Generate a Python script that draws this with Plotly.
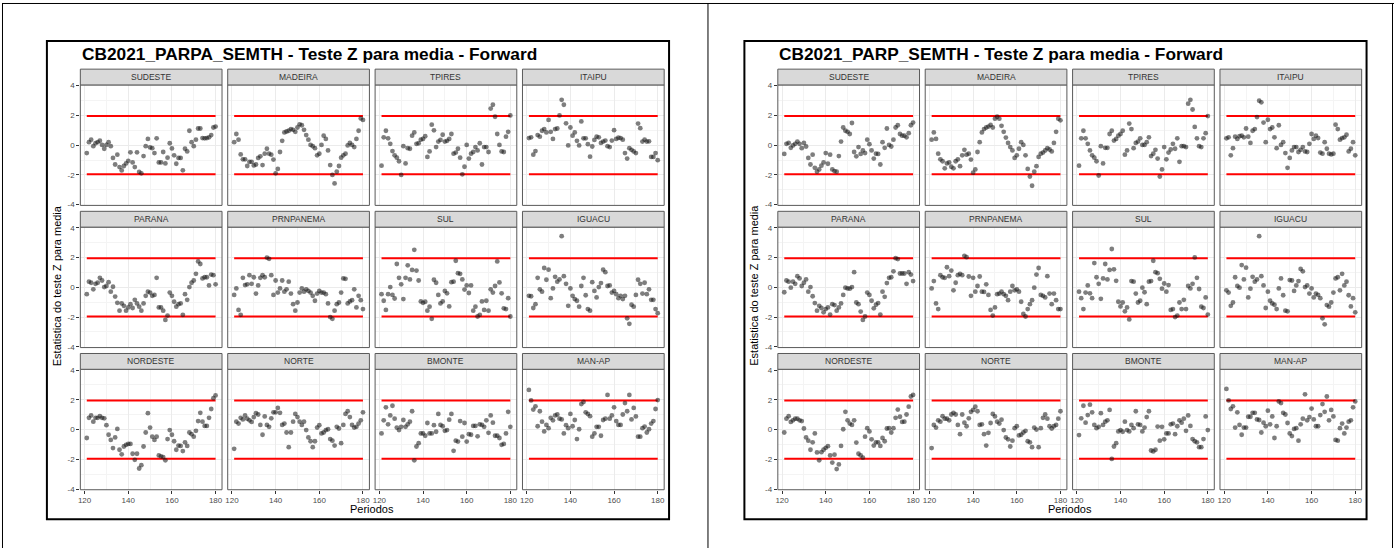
import plotly.graph_objects as go

W, H = 1395, 552

PERIODS = list(range(121, 181))
REGIONS = ["SUDESTE", "MADEIRA", "TPIRES", "ITAIPU",
           "PARANA", "PRNPANEMA", "SUL", "IGUACU",
           "NORDESTE", "NORTE", "BMONTE", "MAN-AP"]
LIMIT = 1.96
TITLES = ["CB2021_PARPA_SEMTH - Teste Z para media - Forward",
          "CB2021_PARP_SEMTH - Teste Z para media - Forward"]
X_TICKS = [120, 140, 160, 180]
Y_TICKS = [-4, -2, 0, 2, 4]
Y_TICK_TEXT = ["-4", "-2", "0", "2", "4"]

# ---- CB2021_PARPA_SEMTH ----
PARPA_SUDESTE = [-0.53, 0.2, 0.37, -0.07, 0.13, 0.2, 0.3, 0.02, -0.24, 0.02,
                 0.2, -0.07, -0.86, -1.3, -0.64, -1.47, -1.7, -1.4, -1.23, -1.05,
                 -0.48, -1.16, -1.47, -0.48, -1.8, -1.89, -0.73, -0.07, 0.42, -0.15,
                 -0.2, -0.53, 0.46, -1.16, -1.16, -0.46, -1.23, -0.84, 0.13, -0.22,
                 -0.68, -1.25, -0.86, -0.86, -1.69, -0.24, -0.42, 0.97, 0.2, -0.07,
                 0.37, 1.12, 1.12, 0.48, 0.46, 0.48, 0.53, 0.68, 1.19, 1.25]
PARPA_MADEIRA = [0.2, 0.75, 0.37, -0.62, -0.95, -0.95, -1.4, -1.12, -1.12, -1.36,
                 -1.3, -0.86, -0.75, -1.34, -0.57, -0.24, -0.57, -0.64, -0.97, -1.89,
                 -1.6, -0.46, 0.29, 0.86, 0.92, 0.97, 1.08, 1.03, 0.9, 1.19,
                 1.4, 1.34, 1.03, 0.68, 0.37, 0.02, -0.07, -0.2, -0.68, -0.57,
                 0.02, 0.64, 0.42, -0.35, -1.34, -2.0, -2.57, -1.78, -1.4, -0.84,
                 -0.68, -0.57, -0.02, 0.15, 0.02, -0.13, 0.42, 0.97, 1.8, 1.7]
PARPA_TPIRES = [-1.38, 0.53, 0.97, 0.46, 0.09, -0.4, -0.68, -0.84, -1.08, -2.0,
                -0.07, -1.23, -0.2, -0.24, 0.64, 0.86, 0.09, 0.13, 0.37, 0.42,
                0.6, -0.79, -0.42, 1.38, 1.0, -0.13, 0.24, 0.35, 0.7, 0.24,
                0.29, 0.42, 0.75, -0.57, -0.5, -0.24, -0.84, -1.96, -1.45, 0.02,
                -0.9, -0.57, -0.46, -0.13, -0.35, 0.13, -1.3, -0.13, -0.13, -0.46,
                2.46, 2.72, 1.91, 0.75, 0.02, -0.42, -0.46, 0.57, 0.9, 2.0]
PARPA_ITAIPU = [0.48, 0.53, -0.64, -0.4, 0.68, 0.57, 0.97, 1.08, 0.86, 1.7,
                0.9, 0.42, 1.08, 1.12, 2.0, 3.05, 2.72, 1.47, -0.02, 1.19,
                0.64, 0.86, 0.29, -0.02, 1.6, 0.46, 0.46, 0.07, -0.77, -0.09,
                0.35, 0.57, 0.53, 0.15, 0.24, 0.31, -0.07, -0.13, 0.31, 1.01,
                0.42, 0.5, 0.48, 0.37, -0.53, -0.9, -0.2, -0.31, -0.42, -0.53,
                1.45, 1.14, 0.24, 0.37, 0.24, 0.26, -0.79, -0.79, -0.53, -1.01]
PARPA_PARANA = [-0.46, 0.38, 0.31, -0.13, 0.24, 0.31, 0.64, 0.46, 0.02, 0.09,
                0.35, -0.29, 0.04, -0.62, -1.04, -1.57, -1.08, -1.24, -1.57, -1.35,
                -1.13, -1.39, -0.84, -1.08, -1.3, -1.57, -1.08, -0.57, -0.29, -0.35,
                -0.57, -0.51, 0.64, -1.35, -1.35, -1.57, -2.19, -1.9, -0.35, -0.57,
                -0.97, -1.3, -1.13, -1.08, -1.85, -0.46, -0.84, 0.02, 0.31, 0.46,
                0.91, 1.74, 1.57, 0.6, 0.68, 0.68, 0.13, 0.86, 0.82, 0.2]
PARPA_PRNPANEMA = [-0.51, -0.07, -1.52, -1.85, 0.64, 0.15, 0.2, 0.82, 0.24, 0.68,
                   -0.42, 0.13, 0.64, 0.82, 0.68, 2.0, 1.92, 0.82, -0.51, 0.46,
                   -0.35, -0.07, 0.46, -0.29, -0.13, 0.38, -0.42, -1.13, -1.57, -1.02,
                   -0.35, -0.07, -0.29, -0.13, -0.24, -0.35, -0.57, -0.9, -0.42, -0.24,
                   -0.35, -0.35, -0.46, -1.08, -2.0, -2.12, -1.57, -1.13, -1.02, -0.35,
                   0.6, 0.57, -1.08, -0.95, -0.86, -0.13, -1.35, -0.57, -0.86, -1.46]
PARPA_SUL = [-0.46, -0.9, -1.52, -0.46, 0.02, -0.51, -0.75, 1.57, 0.64, 0.2,
             -0.79, 0.64, 1.48, 0.53, 1.17, 2.52, 1.13, 0.46, -0.95, -1.04,
             -0.97, -1.57, -1.3, -2.12, 0.51, 0.31, -0.51, -1.08, -0.95, -0.24,
             -0.4, -1.28, 0.35, 0.38, 1.79, 0.95, 0.91, 0.53, -0.15, 0.13,
             -0.38, 0.13, -1.57, -1.3, -1.96, -1.85, -0.95, -1.52, -0.9, -1.57,
             -0.13, -0.35, 0.09, 1.74, 0.33, -0.4, -1.41, -1.46, -0.73, -1.96]
PARPA_IGUACU = [-0.57, -0.6, -1.39, -1.13, 0.64, -0.13, -0.29, 1.3, 0.51, 1.19,
                -0.73, -0.07, 0.71, 0.38, 0.53, 3.44, 0.75, 0.24, -1.24, -0.07,
                -0.57, -0.79, -0.9, -1.3, 0.09, 0.64, -0.53, -1.46, -1.57, 0.35,
                -0.24, -0.68, 0.02, 0.29, 1.19, 1.02, 0.09, 0.13, -0.35, -0.24,
                -0.46, -0.73, -0.57, -0.79, -0.57, -2.08, -2.45, -1.17, -1.3, -0.51,
                0.51, 0.24, -0.42, 0.31, -0.46, -0.13, -0.84, -0.84, -1.46, -1.74]
PARPA_NORDESTE = [-0.57, 0.79, 0.95, 0.53, 0.79, 0.79, 0.9, 0.79, 0.75, 0.29,
                  -0.35, -0.7, -1.25, -0.53, 0.04, -1.36, -1.67, -1.14, -1.03, -0.97,
                  -0.97, -1.63, -2.04, -1.63, -2.62, -2.4, -1.14, -0.2, 1.1, 0.13,
                  -0.48, -0.7, -0.48, -1.74, -1.8, -1.85, -2.07, -0.64, -0.04, -0.35,
                  -0.79, -1.36, -1.08, -1.1, -1.45, -0.86, -1.1, -0.2, -0.31, -0.48,
                  -0.09, 0.57, 1.12, 0.53, 0.24, 0.24, 0.79, 1.38, 2.11, 2.29]
PARPA_NORTE = [-1.3, 0.53, 0.4, 0.79, 0.68, 0.95, 0.73, 0.62, 0.51, 0.84,
               1.1, 1.01, 0.31, -0.35, 0.88, 0.31, 0.18, 0.75, 1.16, 1.16,
               1.45, 1.12, 0.31, 0.4, -0.2, -1.19, -0.2, 0.53, 1.05, 0.84,
               0.53, 0.31, 0.53, -0.04, -0.53, -0.79, -1.19, -0.79, 0.13, 0.29,
               -0.26, -0.2, -0.04, 0.02, -0.64, -0.75, -1.08, 0.18, 0.07, -0.92,
               0.31, 1.05, 1.23, 0.84, 0.31, 0.13, 0.18, 0.4, 0.62, 1.16]
PARPA_BMONTE = [-0.26, 0.62, 1.49, 0.35, 0.95, 1.6, 0.73, 0.13, -0.04, 0.18,
                0.64, 0.18, 0.35, 0.53, 1.23, -2.07, -1.14, -0.92, -0.26, -0.26,
                -0.42, 0.44, -0.26, -0.26, 0.29, -0.15, 1.05, 0.31, 0.22, -0.09,
                -0.04, 0.66, 1.05, -1.43, -0.75, -0.81, 0.57, -0.48, 0.44, -0.81,
                -0.31, -0.35, 0.24, 0.24, -0.46, 0.35, 0.31, 0.18, 0.62, -0.22,
                0.95, 0.46, -0.42, -0.42, -0.57, -1.03, -0.97, -0.26, 1.19, 0.18]
PARPA_MANAP = [2.66, 1.96, 1.34, 1.56, 0.22, 1.23, 0.53, -0.13, 0.31, 0.09,
               0.79, 0.62, 0.95, 1.01, 0.73, 0.68, -0.26, 0.29, 0.09, 1.05,
               0.22, 0.64, -0.64, 0.02, 1.71, 1.85, 1.16, 1.05, 0.9, -0.48,
               -0.26, 0.18, 0.18, -0.42, 0.64, 0.73, 2.33, 0.73, 0.95, 1.49,
               0.57, 0.31, 0.31, 1.01, 1.78, 1.23, 2.33, 0.68, 1.45, 0.88,
               -0.48, -0.48, 0.09, 0.2, -0.2, 0.02, 0.4, 0.57, 1.38, 1.98]

# ---- CB2021_PARP_SEMTH ----
PARP_SUDESTE = [-0.59, 0.09, 0.15, -0.18, -0.02, 0.09, 0.24, 0.09, -0.2, 0.15,
                -0.09, -0.86, -1.3, -0.64, -1.52, -1.78, -1.63, -1.38, -1.16, -0.53,
                -1.25, -0.64, -1.63, -1.74, -1.78, -0.73, 0.24, 1.19, 0.97, 0.9,
                0.75, 1.49, -0.46, -0.75, -0.13, -0.59, -0.35, -0.53, 0.37, 0.07,
                -0.35, -0.9, -0.57, -0.59, -1.3, 0.2, -0.18, 1.12, 0.02, -0.09,
                0.37, 1.19, 1.34, 0.75, 0.64, 0.64, 0.53, 0.81, 1.34, 1.52]
PARP_MADEIRA = [0.37, 0.86, 0.42, -0.57, -0.95, -1.08, -1.56, -1.23, -1.16, -1.45,
                -1.56, -1.08, -0.95, -1.41, -0.68, -0.31, -0.64, -0.57, -0.97, -1.85,
                -1.63, -0.46, 0.2, 0.86, 1.08, 1.19, 1.25, 1.36, 1.19, 1.78,
                1.91, 1.78, 1.3, 0.9, 0.51, 0.15, -0.13, -0.35, -0.86, -0.68,
                -0.24, 0.2, 0.02, -0.68, -1.6, -2.11, -2.73, -1.78, -1.41, -0.79,
                -0.57, -0.5, -0.35, -0.2, -0.29, -0.42, 0.15, 0.9, 1.78, 1.67]
PARP_TPIRES = [-1.38, 0.46, 0.97, 0.46, 0.09, -0.35, -0.68, -0.84, -1.08, -2.04,
               -0.07, -1.23, -0.18, -0.18, 0.75, 0.97, 0.31, 0.42, 0.64, 0.75,
               0.97, -0.64, -0.35, 1.45, 1.08, -0.2, 0.15, 0.24, 0.46, 0.02,
               0.02, 0.2, 0.53, -0.73, -0.57, -0.31, -0.9, -2.11, -1.63, -0.13,
               -0.95, -0.5, -0.29, 0.09, -0.24, 0.46, -1.12, -0.07, -0.07, -0.13,
               2.79, 3.05, 2.4, 1.23, 0.46, -0.07, -0.13, 0.46, 0.81, 1.96]
PARP_ITAIPU = [0.46, 0.53, -0.68, -0.2, 0.57, 0.42, 0.6, 0.64, 0.53, 1.12,
               0.57, 0.15, 0.97, 1.08, 1.89, 2.99, 2.88, 1.52, 0.2, 1.71,
               1.08, 1.19, 0.53, -0.2, 1.34, 0.02, 0.2, -0.53, -1.52, -0.86,
               -0.35, -0.13, -0.13, -0.46, -0.31, -0.13, -0.42, -0.46, 0.09, 0.75,
               0.42, 0.64, 0.48, -0.5, -0.57, 0.2, -0.24, -0.57, -0.62, -0.57,
               1.38, 1.08, 0.37, 0.48, 0.53, 0.7, -0.42, -0.24, 0.2, -0.68]
PARP_PARANA = [-0.33, 0.46, 0.38, -0.02, 0.38, 0.24, 0.75, 0.6, 0.09, 0.31,
               0.53, -0.29, 0.02, -0.6, -1.06, -1.57, -1.24, -1.39, -1.68, -1.46,
               -1.35, -1.83, -1.13, -1.19, -1.57, -1.35, -1.08, -0.51, -0.02, -0.07,
               -0.09, 0.02, 1.02, -1.02, -1.13, -1.63, -2.19, -1.96, -0.35, -0.51,
               -0.9, -1.41, -1.17, -1.06, -1.83, -0.29, -0.64, 0.29, 0.64, 0.68,
               1.08, 1.96, 1.9, 0.93, 0.93, 0.93, 0.24, 1.02, 0.86, 0.42]
PARP_PRNPANEMA = [-0.07, 0.42, -1.08, -1.46, 0.82, 0.68, 0.64, 1.35, 0.75, 1.13,
                  -0.2, 0.31, 0.82, 0.91, 0.82, 2.12, 2.03, 0.73, -0.57, 0.64,
                  -0.29, 0.09, 0.73, -0.29, -0.31, 0.2, -0.51, -1.52, -1.9, -1.35,
                  -0.46, -0.42, -0.29, -0.46, -0.57, -0.86, -0.29, 0.09, -0.2, -0.13,
                  -0.29, -0.97, -1.79, -1.96, -1.46, -1.13, -0.86, -0.02, 0.86, 1.3,
                  -0.51, -0.57, -0.68, 0.75, -0.42, -1.13, -0.42, -0.86, -1.46, -1.46]
PARP_SUL = [-0.29, -0.73, -1.46, -0.35, 0.13, -0.4, -0.73, 1.63, 0.68, 0.24,
            -0.77, 0.6, 1.57, 0.53, 1.17, 2.58, 1.21, 0.44, -0.97, -1.28,
            -1.02, -1.61, -1.35, -2.16, 0.42, 0.38, -0.42, -1.02, -0.9, -0.02,
            -0.33, -1.13, 0.38, 0.42, 1.79, 1.02, 0.95, 0.57, -0.09, 0.26,
            -0.29, 0.15, -1.52, -1.46, -2.0, -1.9, -1.02, -1.46, -0.84, -1.46,
            0.09, -0.07, 0.24, 2.01, 0.64, -0.11, -1.3, -1.39, -0.68, -1.83]
PARP_IGUACU = [-0.2, -0.35, -1.24, -1.02, 0.68, 0.09, -0.02, 1.5, 0.53, 1.32,
               -0.68, -0.09, 0.71, 0.38, 0.53, 3.44, 0.75, 0.13, -1.39, -0.29,
               -0.9, -1.08, -1.17, -1.46, -0.07, 0.6, -0.53, -1.57, -1.61, 0.49,
               0.46, -0.24, 0.13, 0.42, 1.24, 1.08, 0.02, 0.13, -0.42, -0.07,
               -0.68, -0.42, -0.51, -0.73, -2.08, -2.49, -1.19, -1.3, -1.02, -0.35,
               0.6, 0.68, -0.2, 0.91, 0.13, 0.38, -0.53, -1.28, -0.73, -1.68]
PARP_NORDESTE = [-0.2, 0.73, 0.9, 0.51, 0.62, 0.73, 0.73, 0.62, 0.57, 0.07,
                 -0.53, -0.75, -1.36, -0.86, -0.26, -1.54, -2.07, -1.52, -1.36, -1.23,
                 -1.12, -1.74, -2.22, -1.69, -2.66, -2.35, -1.1, 0.02, 1.19, 0.62,
                 0.4, 0.31, 0.62, -0.88, -1.63, -1.74, -1.89, -0.48, 0.09, -0.13,
                 -0.66, -1.08, -0.86, -0.86, -1.1, -0.57, -0.79, 0.07, 0.09, -0.2,
                 0.09, 0.79, 1.34, 0.86, 0.51, 0.53, 1.01, 1.54, 2.22, 2.33]
PARP_NORTE = [-1.25, 0.31, 0.13, 0.62, 0.53, 0.9, 0.73, 0.73, 0.62, 1.01,
              1.12, 1.01, 0.31, -0.31, 1.01, 0.46, 0.22, 0.75, 1.19, 1.32,
              1.54, 1.23, 0.31, 0.35, -0.31, -1.08, -0.22, 0.44, 1.05, 0.88,
              0.53, 0.4, 0.66, -0.04, -0.53, -0.66, -1.14, -0.75, 0.09, 0.22,
              -0.4, -0.35, -0.2, -0.09, -0.79, -0.86, -1.19, 0.13, 0.0, -1.19,
              0.09, 0.79, 1.01, 0.73, 0.22, 0.07, 0.22, 0.31, 0.73, 1.23]
PARP_BMONTE = [-0.37, 0.75, 1.6, 0.46, 0.97, 1.67, 1.16, 0.31, 0.09, 0.18,
               1.1, 0.31, 0.53, 0.62, 1.32, -1.98, -1.14, -0.92, -0.13, -0.04,
               -0.15, 0.53, -0.04, -0.13, 0.31, 0.09, 1.23, 0.35, 0.31, -0.13,
               0.13, 0.84, 1.23, -1.41, -1.47, -1.36, 0.2, -0.75, 0.18, -0.66,
               -0.26, -0.26, 0.35, 0.4, -0.31, 0.22, 0.62, 0.46, 0.73, -0.09,
               0.95, 0.24, -0.64, -0.79, -0.86, -1.19, -1.19, -0.64, 0.88, -0.04]
PARP_MANAP = [2.73, 1.96, 1.38, 1.56, 0.13, 1.16, 0.31, -0.35, 0.13, 0.13,
              0.86, 0.86, 1.12, 1.12, 0.68, 0.64, -0.2, 0.46, 0.22, 1.27,
              0.35, 0.88, -0.57, 0.22, 1.89, 1.78, 1.12, 1.01, 0.44, -0.26,
              -0.44, 0.04, 0.09, -0.75, 0.35, 0.73, 2.37, 0.62, 0.84, 1.41,
              0.68, 0.22, 0.22, 0.97, 1.71, 1.19, 2.22, 0.62, 1.32, 0.88,
              -0.7, -0.75, 0.09, 0.4, -0.26, 0.13, 0.53, 0.62, 1.49, 1.89]

PARPA = [PARPA_SUDESTE, PARPA_MADEIRA, PARPA_TPIRES, PARPA_ITAIPU,
         PARPA_PARANA, PARPA_PRNPANEMA, PARPA_SUL, PARPA_IGUACU,
         PARPA_NORDESTE, PARPA_NORTE, PARPA_BMONTE, PARPA_MANAP]
PARP = [PARP_SUDESTE, PARP_MADEIRA, PARP_TPIRES, PARP_ITAIPU,
        PARP_PARANA, PARP_PRNPANEMA, PARP_SUL, PARP_IGUACU,
        PARP_NORDESTE, PARP_NORTE, PARP_BMONTE, PARP_MANAP]

FONT = "Liberation Sans, Arial, sans-serif"


def fx(px):
    return px / W


def fy(py):
    return 1 - py / H


fig = go.Figure()
shapes = []
annotations = []
layout_axes = {}

# outer page frame (top, left, right, middle divider)
for x0, y0, x1, y1 in [(0, 0.5, W, 0.5), (0.5, 0, 0.5, H),
                       (W - 1.5, 0, W - 1.5, H), (707.5, 0, 707.5, H)]:
    shapes.append(dict(type="line", xref="paper", yref="paper",
                       x0=fx(x0), y0=fy(y0), x1=fx(x1), y1=fy(y1),
                       line=dict(color="black", width=1)))

n = 0
for s, (title, series) in enumerate(zip(TITLES, [PARPA, PARP])):
    off = 699 * s
    # chart box
    shapes.append(dict(type="rect", xref="paper", yref="paper",
                       x0=fx(45 + off), x1=fx(668.5 + off), y0=fy(523), y1=fy(38.5),
                       line=dict(color="black", width=2)))
    annotations.append(dict(text="<b>%s</b>" % title, x=fx(78 + off), y=fy(52),
                            xref="paper", yref="paper", xanchor="left", yanchor="middle",
                            showarrow=False, font=dict(family=FONT, size=17.3, color="black")))
    annotations.append(dict(text="Estatistica do teste Z para media", x=fx(55 + off), y=fy(286),
                            xref="paper", yref="paper", xanchor="center", yanchor="middle",
                            textangle=-90, showarrow=False,
                            font=dict(family=FONT, size=11, color="black")))
    annotations.append(dict(text="Periodos", x=fx(371 + off), y=fy(513),
                            xref="paper", yref="paper", xanchor="center", yanchor="middle",
                            showarrow=False, font=dict(family=FONT, size=11, color="black")))

    for k, (region, vals) in enumerate(zip(REGIONS, series)):
        r, c = divmod(k, 4)
        n += 1
        x0 = 78.5 + 147.7 * c + off
        x1 = x0 + 142
        yt = 83 + 144 * r
        yb = yt + 122
        sfx = "" if n == 1 else str(n)
        xa, ya = "x" + sfx, "y" + sfx

        layout_axes["xaxis" + sfx] = dict(
            domain=[fx(x0), fx(x1)], anchor=ya, range=[118.05, 182.95],
            tickvals=X_TICKS, ticktext=[str(v) for v in X_TICKS],
            showticklabels=(r == 2), ticks="outside" if r == 2 else "",
            ticklen=3, tickcolor="#333333", tickwidth=1,
            tickfont=dict(family=FONT, size=8, color="#4d4d4d"),
            showgrid=True, gridcolor="#ebebeb", gridwidth=1, zeroline=False,
            minor=dict(tickvals=[130, 150, 170], showgrid=True,
                       gridcolor="#f4f4f4", gridwidth=0.6),
            showline=False, fixedrange=True)
        layout_axes["yaxis" + sfx] = dict(
            domain=[fy(yb), fy(yt)], anchor=xa, range=[-4.05, 4.05],
            tickvals=Y_TICKS, ticktext=Y_TICK_TEXT,
            showticklabels=(c == 0), ticks="outside" if c == 0 else "",
            ticklen=3, tickcolor="#333333", tickwidth=1,
            tickfont=dict(family=FONT, size=8, color="#4d4d4d"),
            showgrid=True, gridcolor="#ebebeb", gridwidth=1, zeroline=False,
            minor=dict(tickvals=[-3, -1, 1, 3], showgrid=True,
                       gridcolor="#f4f4f4", gridwidth=0.6),
            showline=False, fixedrange=True)

        # panel border and strip
        shapes.append(dict(type="rect", xref="paper", yref="paper",
                           x0=fx(x0), x1=fx(x1), y0=fy(yb), y1=fy(yt),
                           line=dict(color="#5a5a5a", width=1), layer="above"))
        shapes.append(dict(type="rect", xref="paper", yref="paper",
                           x0=fx(x0), x1=fx(x1), y0=fy(yt), y1=fy(yt - 16),
                           fillcolor="#d9d9d9", line=dict(color="#5a5a5a", width=1)))
        annotations.append(dict(text=region, x=fx((x0 + x1) / 2), y=fy(yt - 8),
                                xref="paper", yref="paper", xanchor="center", yanchor="middle",
                                showarrow=False, font=dict(family=FONT, size=8.5, color="#333333")))

        # control limits
        for lim in (LIMIT, -LIMIT):
            fig.add_trace(go.Scatter(x=[PERIODS[0], PERIODS[-1]], y=[lim, lim],
                                     mode="lines", line=dict(color="#ff0000", width=2),
                                     xaxis=xa, yaxis=ya, showlegend=False, hoverinfo="skip"))
        # test statistics
        fig.add_trace(go.Scatter(x=PERIODS, y=vals, mode="markers",
                                 marker=dict(size=4.8, color="rgba(20,20,20,0.55)",
                                             line=dict(width=0)),
                                 xaxis=xa, yaxis=ya, showlegend=False))

fig.update_layout(
    width=W, height=H, autosize=False,
    margin=dict(l=0, r=0, t=0, b=0),
    paper_bgcolor="white", plot_bgcolor="white",
    shapes=shapes, annotations=annotations,
    **layout_axes,
)

fig.write_html("out.html")
